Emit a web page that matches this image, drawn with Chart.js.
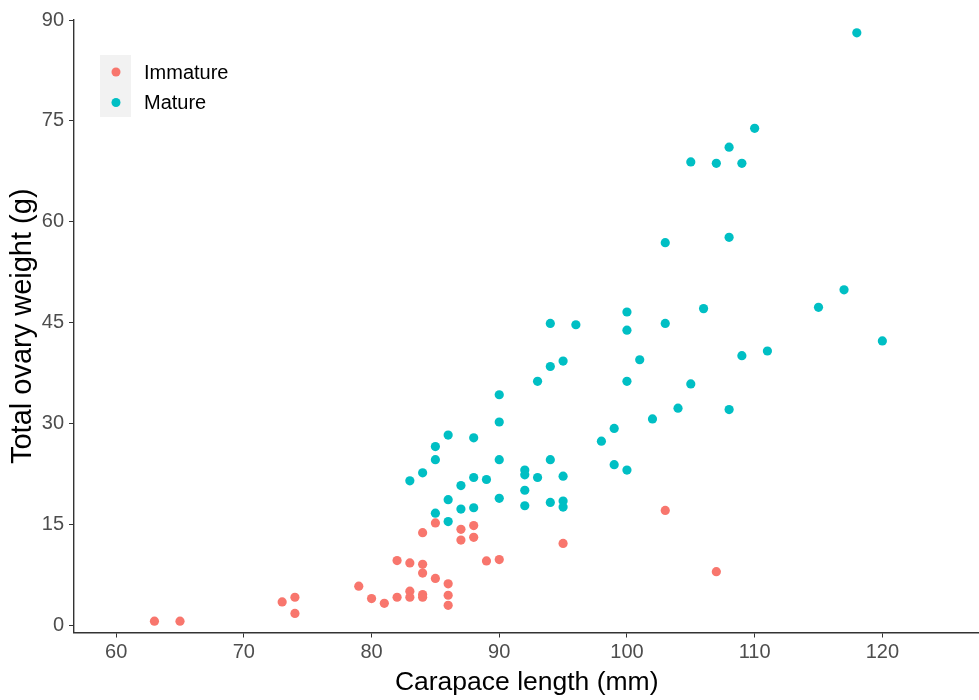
<!DOCTYPE html>
<html>
<head>
<meta charset="utf-8">
<script src="https://cdn.jsdelivr.net/npm/chart.js@4.4.1/dist/chart.umd.min.js"></script>
<style>
html, body { margin: 0; padding: 0; background: #fff; overflow: hidden; }
#wrap { width: 984px; height: 700px; }
</style>
</head>
<body>
<div id="wrap"><canvas id="ovaryChart"></canvas></div>
<script>
// values
const immatureLength = [63, 65, 73, 74, 74, 79, 80, 81, 82, 82, 83, 83, 83, 84, 84, 84, 84, 84, 85, 85, 86, 86, 86, 87, 87, 88, 88, 89, 90, 95, 103, 107];
const immatureWeight = [0.65, 0.65, 3.5, 4.2, 1.8, 5.85, 4.0, 3.3, 9.65, 4.2, 9.3, 5.1, 4.2, 13.8, 9.1, 7.8, 4.6, 4.2, 15.25, 7.0, 6.2, 4.5, 3.0, 14.3, 12.7, 14.85, 13.1, 9.6, 9.8, 12.2, 17.1, 8.0];

const matureLength = [83, 84, 85, 85, 85, 86, 86, 86, 87, 87, 88, 88, 88, 89, 90, 90, 90, 90, 92, 92, 92, 92, 93, 93, 94, 94, 94, 94, 95, 95, 95, 95, 96, 98, 99, 99, 100, 100, 100, 100, 101, 102, 103, 103, 104, 105, 105, 106, 107, 108, 108, 108, 109, 109, 110, 111, 115, 117, 118, 120];
const matureWeight = [21.5, 22.7, 26.6, 24.65, 16.7, 28.3, 18.7, 15.45, 20.8, 17.3, 27.9, 22.0, 17.5, 21.7, 34.3, 30.25, 24.65, 18.9, 23.1, 22.4, 20.1, 17.8, 36.3, 22.0, 44.9, 38.5, 24.65, 18.3, 39.3, 22.2, 18.5, 17.6, 44.7, 27.4, 29.3, 23.9, 46.6, 43.9, 36.3, 23.1, 39.5, 30.7, 56.9, 44.9, 32.3, 68.9, 35.9, 47.1, 68.7, 71.1, 57.7, 32.1, 68.7, 40.1, 73.9, 40.8, 47.3, 49.9, 88.1, 42.3];

const xTicks = [60, 70, 80, 90, 100, 110, 120];
const yTicks = [0, 15, 30, 45, 60, 75, 90];

const toPoints = (xs, ys) => xs.map((x, i) => ({x: x, y: ys[i]}));

const FONT = '"Liberation Sans", Arial, sans-serif';

// ggplot-style legend in the top left corner
const legendBox = {
    id: 'legendBox',
    afterDraw(chart) {
        const ctx = chart.ctx;
        ctx.save();
        ctx.fillStyle = '#f2f2f2';
        ctx.fillRect(100, 55, 31, 62);
        ctx.font = '20px ' + FONT;
        ctx.textBaseline = 'middle';
        chart.data.datasets.forEach((ds, i) => {
            const cy = 72 + i * 30.5;
            ctx.fillStyle = ds.backgroundColor;
            ctx.beginPath();
            ctx.arc(116, cy, 4.5, 0, Math.PI * 2);
            ctx.fill();
            ctx.fillStyle = '#000';
            ctx.fillText(ds.label, 144, cy + 1);
        });
        ctx.restore();
    }
};

const axisGrid = {display: true, drawOnChartArea: false, drawTicks: true, tickLength: 5, color: '#333', lineWidth: 1};
const axisBorder = {display: true, color: '#333', width: 1.4};

new Chart(document.getElementById('ovaryChart'), {
    type: 'scatter',
    data: {
        datasets: [{
            label: 'Immature',
            data: toPoints(immatureLength, immatureWeight),
            backgroundColor: '#F8766D',
            borderWidth: 0,
            pointRadius: 4.6
        }, {
            label: 'Mature',
            data: toPoints(matureLength, matureWeight),
            backgroundColor: '#00BFC4',
            borderWidth: 0,
            pointRadius: 4.6
        }]
    },
    options: {
        responsive: true,
        maintainAspectRatio: false,
        animation: false,
        layout: {padding: {top: 20, right: 0, left: 0, bottom: 0}},
        plugins: {
            legend: {display: false},
            tooltip: {enabled: false}
        },
        scales: {
            x: {
                type: 'linear',
                min: 56.7,
                max: 127.6,
                afterBuildTicks: s => { s.ticks = xTicks.map(v => ({value: v})); },
                afterFit: s => { s.height = 67.5; },
                grid: axisGrid,
                border: axisBorder,
                ticks: {color: '#4d4d4d', font: {family: FONT, size: 20}, padding: 3, autoSkip: false, maxRotation: 0},
                title: {display: true, text: 'Carapace length (mm)', color: '#000', font: {family: FONT, size: 26.5}, padding: {top: 0, bottom: 1}}
            },
            y: {
                type: 'linear',
                min: -1.04,
                max: 90,
                afterBuildTicks: s => { s.ticks = yTicks.map(v => ({value: v})); },
                afterFit: s => { s.width = 74; },
                grid: axisGrid,
                border: axisBorder,
                ticks: {color: '#4d4d4d', font: {family: FONT, size: 20}, padding: 5, autoSkip: false},
                title: {display: true, text: 'Total ovary weight (g)', color: '#000', font: {family: FONT, size: 29}, padding: {top: 5.5, bottom: 0}}
            }
        }
    },
    plugins: [legendBox]
});
</script>
</body>
</html>
